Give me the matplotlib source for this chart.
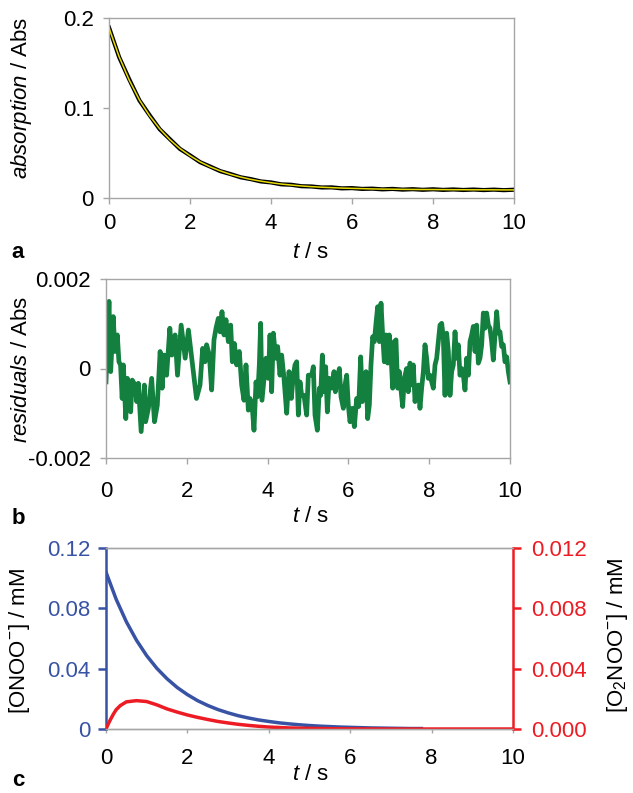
import numpy as np
import matplotlib
matplotlib.use("Agg")
import matplotlib.pyplot as plt

plt.rcParams['font.family'] = ['Liberation Sans', 'DejaVu Sans']
plt.rcParams['mathtext.fontset'] = 'custom'
plt.rcParams['mathtext.rm'] = 'Liberation Sans'
plt.rcParams['mathtext.it'] = 'Liberation Sans:italic'

# ---- panel a: absorption trace and fit (t in s, Abs) ----
abs_t = np.arange(0, 10.01, 0.25)
abs_data = [0.1895, 0.1565, 0.1318, 0.1085, 0.0922, 0.0765, 0.0655, 0.0546, 0.0474, 0.0398,
            0.0349, 0.0298, 0.0266, 0.0230, 0.0210, 0.0184, 0.0173, 0.0152, 0.0147, 0.0131,
            0.0128, 0.0117, 0.0118, 0.0107, 0.0110, 0.0101, 0.0104, 0.0096, 0.0101, 0.0093,
            0.0098, 0.0091, 0.0097, 0.0090, 0.0095, 0.0089, 0.0094, 0.0088, 0.0093, 0.0087,
            0.0092]
abs_fit = [0.189, 0.157, 0.131, 0.109, 0.0915, 0.077, 0.065, 0.055, 0.047, 0.0401,
           0.0346, 0.0301, 0.0263, 0.0233, 0.0207, 0.0187, 0.0170, 0.0155, 0.0144, 0.0134,
           0.0126, 0.0120, 0.0115, 0.0110, 0.0107, 0.0104, 0.0101, 0.0099, 0.0098, 0.0096,
           0.0095, 0.0094, 0.0094, 0.0093, 0.0092, 0.0092, 0.0091, 0.0091, 0.0091, 0.0090,
           0.0090]

# ---- panel b: residuals (values in units of 0.001 Abs) ----
resid_t = [0.0, 0.074, 0.116, 0.18, 0.22, 0.28, 0.32, 0.36, 0.40, 0.43, 0.49, 0.53, 0.61,
           0.65, 0.72, 0.76, 0.80, 0.87, 0.95, 0.98, 1.05, 1.13, 1.20, 1.27, 1.34, 1.39,
           1.44, 1.50, 1.58, 1.63, 1.71, 1.77, 1.86, 1.96, 2.04, 2.24,
           2.327, 2.393, 2.45, 2.49, 2.558, 2.615, 2.673, 2.723, 2.78, 2.822, 2.871, 2.921,
           2.97, 3.028, 3.086, 3.127, 3.177, 3.234, 3.30, 3.358, 3.416, 3.465, 3.523, 3.564,
           3.622, 3.663, 3.713, 3.754, 3.795, 3.828, 3.861, 3.919, 3.96, 4.018, 4.059, 4.10,
           4.142, 4.20, 4.249, 4.307, 4.348, 4.406, 4.472, 4.53, 4.587, 4.637, 4.678, 4.72,
           4.761, 4.802, 4.843, 4.901, 4.967, 5.008,
           5.091, 5.132, 5.173, 5.231, 5.281, 5.314, 5.355, 5.396, 5.437, 5.479, 5.528, 5.586,
           5.644, 5.677, 5.726, 5.776, 5.817, 5.875, 5.916, 5.957, 5.998, 6.04, 6.097, 6.147,
           6.205, 6.254, 6.304, 6.345, 6.386, 6.436, 6.477, 6.518, 6.559, 6.601, 6.642, 6.683,
           6.724, 6.766, 6.807, 6.848, 6.889, 6.931, 6.972, 7.013, 7.054, 7.096, 7.137, 7.178,
           7.219, 7.261, 7.302, 7.343, 7.384, 7.442, 7.483,
           7.525, 7.566, 7.607, 7.649, 7.690, 7.731, 7.772, 7.813, 7.855, 7.896, 7.937, 7.978,
           8.02, 8.061, 8.102, 8.144, 8.185, 8.226, 8.267, 8.309, 8.35, 8.391, 8.432, 8.474,
           8.515, 8.556, 8.597, 8.639, 8.68, 8.721, 8.762, 8.804, 8.845, 8.886, 8.927, 8.969,
           9.01, 9.051, 9.092, 9.134, 9.175, 9.216, 9.257, 9.299, 9.34, 9.381, 9.422, 9.464,
           9.505, 9.546, 9.587, 9.629, 9.67, 9.711, 9.752, 9.794, 9.835, 9.876, 9.918, 9.959,
           10.0]
resid_v = [-0.3, 1.5, -0.07, 1.16, 0.38, 0.75, 0.15, 0.08, -0.67, 0.08, -1.12, -0.22, -0.97,
           -0.26, -0.37, -0.74, -0.33, -1.41, -0.37, -1.19, -0.89, -0.22, -1.19, -0.82, 0.38, -0.44,
           0.3, -0.15, 0.9, 0.3, 0.75, -0.15, 0.97, 0.23, 0.86, -0.67,
           -0.37, 0.45, 0.15, 0.53, 0.3, -0.48, 0.64, 0.9, 1.12, 0.82, 1.27, 0.75,
           1.09, 0.6, 0.97, 0.15, 0.56, 0.08, 0.38, -0.37, -0.71, 0.08, -0.93, -0.67,
           -0.89, -1.38, -0.3, -0.63, 0.08, 1.01, -0.71, -0.15, 0.23, -0.22, 0.75, -0.52,
           0.79, 0.23, 0.49, -0.15, 0.3, -0.22, -1.0, -0.07, -0.67, -0.15, 0.08, 0.15,
           -1.04, -0.3, -0.6, -0.6, -1.04, -0.15,
           -0.15, 0.04, -1.04, -1.38, -0.44, -0.6, 0.3, -0.52, 0.04, -0.97, -0.22, -0.44,
           -0.07, -0.52, -0.22, 0.0, -0.63, -0.89, -0.37, -0.15, -0.82, -1.19, -0.89, -1.3,
           -0.67, -0.85, 0.26, -0.74, -0.52, -0.07, -1.12, -0.82, 0.08, 0.71, 0.6, 1.01,
           1.38, 0.6, 1.46, 0.75, 0.15, 0.75, 0.12, 0.75, 0.3, -0.44, 0.6, 0.64,
           -0.44, -0.07, -0.48, -0.85, -0.22, 0.0, -0.52,
           0.12, -0.37, 0.08, -0.74, -0.44, -0.37, -0.89, -0.44, -0.07, 0.53, 0.23, -0.22,
           -0.15, -0.3, -0.44, 0.08, 0.23, 0.6, 0.97, 1.01, 0.68, -0.6, 0.79, 0.38,
           -0.6, -0.07, 0.08, 0.82, 0.23, 0.53, -0.15, 0.0, -0.15, -0.48, 0.23, -0.15,
           0.6, 0.75, 0.94, 0.38, 0.97, 0.12, 0.23, 0.53, 1.24, 0.9, 1.24, 0.97,
           0.9, 0.6, 0.19, 0.75, 1.27, 0.79, 0.82, 0.49, 0.53, 0.15, 0.26, -0.07,
           -0.3]

# ---- panel c: concentrations (mM) ----
onoo_t = np.arange(0, 7.76, 0.25)
onoo = [0.1040, 0.0860, 0.0711, 0.0588, 0.0486, 0.0402, 0.0333, 0.0275, 0.0228, 0.0188,
        0.0156, 0.0129, 0.0107, 0.0088, 0.0073, 0.0060, 0.0050, 0.0041, 0.0034, 0.0028,
        0.0023, 0.0019, 0.0016, 0.0013, 0.0011, 0.0009, 0.0007, 0.0006, 0.0005, 0.0004,
        0.0003, 0.0003]
o2noo_t = [0, 0.05, 0.1, 0.18, 0.25, 0.35, 0.5, 0.75, 1.0, 1.25, 1.5, 1.75, 2.0, 2.25,
           2.5, 2.75, 3.0, 3.25, 3.5, 3.75, 4.0, 4.5, 5.0, 5.5, 6.0, 7.0, 10.0]
o2noo = [0, 0.0003, 0.00058, 0.00098, 0.00128, 0.00155, 0.0018, 0.00188, 0.00182, 0.0016,
         0.00133, 0.00112, 0.00093, 0.00077, 0.00063, 0.0005, 0.0004, 0.00031, 0.00024,
         0.00018, 0.00013, 0.00007, 0.00004, 0.00002, 0.00001, 0, 0]

W, H = 633, 793
GRAY = '#a6a6a6'
BLUE = '#3953a4'
RED = '#ed1c24'
GREEN = '#13803f'
FS = 16

fig = plt.figure(figsize=(W / 100, H / 100), dpi=100)


def box(l, t, r, b):
    return [l / W, 1 - b / H, (r - l) / W, (b - t) / H]


def ftext(x, y, s, **kw):
    fig.text(x / W, 1 - y / H, s, ha='center', va='center', fontsize=FS, **kw)


def style_frame(ax, xpad):
    for sp in ax.spines.values():
        sp.set_color(GRAY)
        sp.set_linewidth(1.0)
    ax.tick_params(axis='both', direction='out', length=4, width=1.0, color=GRAY,
                   labelsize=FS, labelcolor='black')
    ax.tick_params(axis='x', pad=xpad)
    ax.tick_params(axis='y', pad=7)
    ax.set_xlim(0, 10)
    ax.set_xticks([0, 2, 4, 6, 8, 10])


# panel a
ax_a = fig.add_axes(box(109, 18, 514, 198))
ax_a.plot(abs_t, abs_data, color='black', lw=3.0, solid_joinstyle='round', zorder=2)
ax_a.plot(abs_t, abs_fit, color='#e6dc00', lw=1.1, zorder=3)
ax_a.set_ylim(0, 0.2)
ax_a.set_yticks([0, 0.1, 0.2])
ax_a.set_yticklabels(['0', '0.1', '0.2'])
style_frame(ax_a, 6.5)

# panel b
ax_b = fig.add_axes(box(106, 279, 510, 458))
ax_b.plot(resid_t, np.array(resid_v) * 1e-3, color=GREEN, lw=3.4, solid_joinstyle='round')
ax_b.set_ylim(-0.002, 0.002)
ax_b.set_yticks([-0.002, 0, 0.002])
ax_b.set_yticklabels(['-0.002', '0', '0.002'])
style_frame(ax_b, 12.5)

# panel c
ax_c = fig.add_axes(box(106, 548, 513, 729))
ax_c.plot(onoo_t, onoo, color=BLUE, lw=2.5, zorder=3)
ax_c.set_ylim(0, 0.12)
ax_c.set_yticks([0, 0.04, 0.08, 0.12])
ax_c.set_yticklabels(['0', '0.04', '0.08', '0.12'])
ax_c2 = ax_c.twinx()
ax_c2.plot(o2noo_t, o2noo, color=RED, lw=2.5, zorder=2)
ax_c2.set_ylim(0, 0.012)
ax_c2.set_yticks([0, 0.004, 0.008, 0.012])
ax_c2.set_yticklabels(['0.000', '0.004', '0.008', '0.012'])
for a in (ax_c, ax_c2):
    a.spines['top'].set_color(GRAY)
    a.spines['bottom'].set_color(GRAY)
    a.spines['top'].set_linewidth(1.0)
    a.spines['bottom'].set_linewidth(1.0)
ax_c.spines['left'].set_color(BLUE)
ax_c.spines['left'].set_linewidth(1.8)
ax_c.spines['right'].set_visible(False)
ax_c2.spines['left'].set_visible(False)
ax_c2.spines['right'].set_color(RED)
ax_c2.spines['right'].set_linewidth(1.8)
ax_c.set_xlim(0, 10)
ax_c.set_xticks([0, 2, 4, 6, 8, 10])
ax_c.tick_params(axis='x', direction='out', length=3, width=1.0, color=GRAY,
                 labelsize=FS, pad=10.5)
ax_c.tick_params(axis='y', direction='out', length=6, width=1.8, color=BLUE,
                 labelcolor=BLUE, labelsize=FS, pad=5)
ax_c2.tick_params(axis='y', direction='out', length=6, width=1.8, color=RED,
                  labelcolor=RED, labelsize=FS, pad=7)

# labels
ftext(22, 98, r'$\mathit{absorption}$ / Abs', rotation=90)
ftext(22, 369, r'$\mathit{residuals}$ / Abs', rotation=90)
ftext(20, 641, r'[ONOO$^{-}$] / mM', rotation=90)
ftext(617, 635, r'[O$_{2}$NOO$^{-}$] / mM', rotation=90)
for y in (252, 517, 774):
    ftext(311, y, r'$\mathit{t}$ / s')
ftext(18, 253, 'a', fontweight='bold')
ftext(18, 518, 'b', fontweight='bold')
ftext(18, 780, 'c', fontweight='bold')

fig.savefig('out.png', dpi=100)
